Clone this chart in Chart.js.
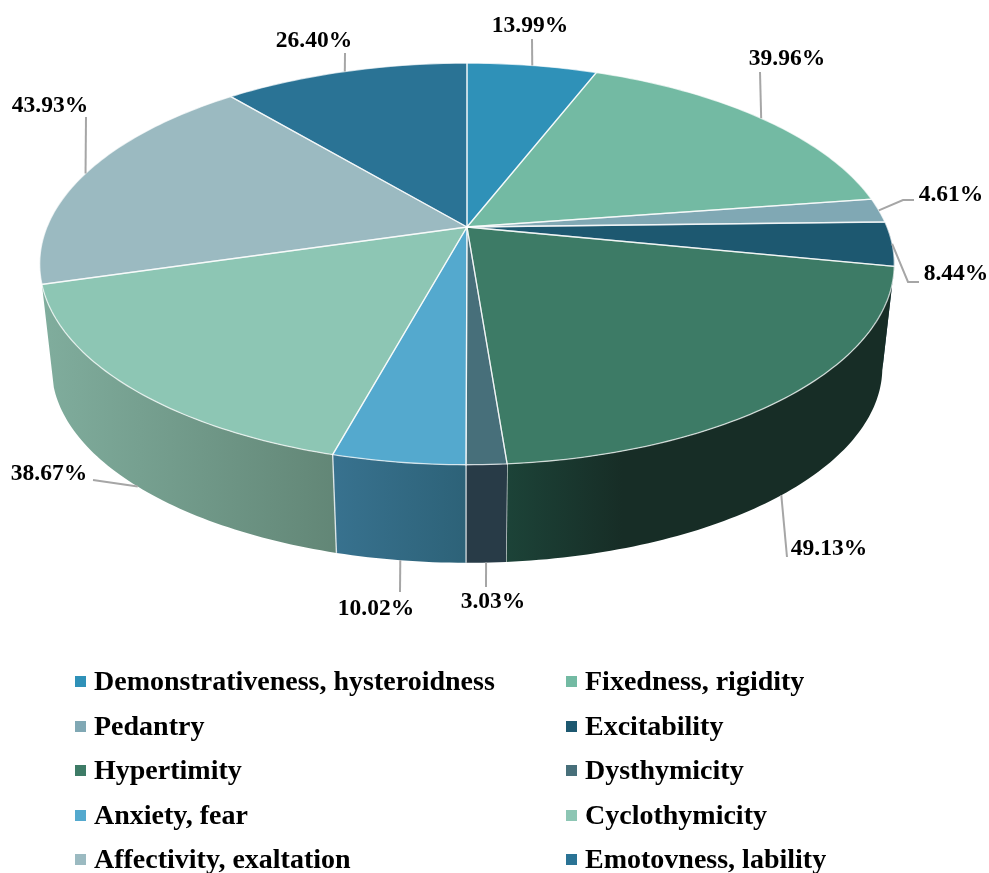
<!DOCTYPE html>
<html>
<head>
<meta charset="utf-8">
<title>Personality accentuations</title>
<script src="https://cdn.jsdelivr.net/npm/chart.js@4"></script>
<style>
    body { margin: 0; background: #fff; }
    #wrap { position: relative; width: 989px; height: 873px; overflow: hidden; }
    #chart-pie { position: absolute; left: 0; top: 0; }
    .legend-item {
        position: absolute;
        height: 44px;
        font: bold 28px/44px "Liberation Serif", serif;
        color: #000;
        white-space: nowrap;
    }
    .legend-item i {
        position: absolute;
        left: -19px;
        top: 17px;
        width: 11px;
        height: 11px;
    }
</style>
</head>
<body>
<div id="wrap">
    <canvas id="chart-pie" width="989" height="873"></canvas>
</div>
<script>
const categories = [
    'Demonstrativeness, hysteroidness', 'Fixedness, rigidity', 'Pedantry', 'Excitability', 'Hypertimity',
    'Dysthymicity', 'Anxiety, fear', 'Cyclothymicity', 'Affectivity, exaltation', 'Emotovness, lability',
];
const percents = [13.99, 39.96, 4.61, 8.44, 49.13, 3.03, 10.02, 38.67, 43.93, 26.40];

const topColors = ['#2f91b8', '#73baa3', '#80a8b4', '#1d5870', '#3d7b66', '#476f7a', '#54a9ce', '#8dc6b4', '#9bbac1', '#2a7395'];
const wallLeft = ['#2f91b8', '#73baa3', '#80a8b4', '#173f50', '#1c4338', '#283b47', '#38728f', '#80ad9d', '#9bbac1', '#2a7395'];
const wallRight = ['#2f91b8', '#73baa3', '#80a8b4', '#173f50', '#172d26', '#283b47', '#2d6278', '#628676', '#9bbac1', '#2a7395'];

// label centre, leader end and optional elbow, in page pixels
const labelCentres = [[530, 26], [787, 59], [951, 195], [956, 274], [829, 549], [493, 602], [376, 609], [49, 474], [50, 106], [314, 41]];
const leaderEnds = [[532, 39], [760, 72], [914, 200], [919, 282], [787, 557], [486, 587], [400, 592], [93, 480], [86, 117], [345, 53]];
const leaderElbows = [null, null, [903, 200], [908, 282], null, null, null, null, null, null];

// perspective of the disc: apex position and foreshortening
const apexX = 467;
const apexY = 227;
const tilt = 0.184;
const radiusX = 420;
const radiusY = 194;
// lower disc, seen slightly smaller and further down
const depthScale = 0.972;
const depthShift = 104.7;

function projectTop(angle) {
    const x = Math.cos(angle);
    const y = Math.sin(angle);
    const w = 1 - tilt * y;
    return [apexX + radiusX * x / w, apexY + radiusY * y / w];
}

function projectBottom(angle) {
    const p = projectTop(angle);
    return [apexX + (p[0] - apexX) * depthScale, apexY + (p[1] - apexY) * depthScale + depthShift];
}

function arcPoints(project, start, end) {
    const steps = Math.max(2, Math.ceil((end - start) * 60));
    const pts = [];
    for (let i = 0; i <= steps; i++) {
        pts.push(project(start + (end - start) * i / steps));
    }
    return pts;
}

function tracePath(ctx, pts) {
    ctx.beginPath();
    pts.forEach((p, i) => (i ? ctx.lineTo(p[0], p[1]) : ctx.moveTo(p[0], p[1])));
}

const pie3d = {
    id: 'pie3d',
    beforeDatasetDraw(chart, args) {
        const ctx = chart.ctx;
        const arcs = args.meta.data;
        const mid = a => (a.startAngle + a.endAngle) / 2;

        // side walls, back to front
        const order = arcs.map((a, i) => i)
            .filter(i => Math.sin(mid(arcs[i])) > 0)
            .sort((i, j) => Math.sin(mid(arcs[i])) - Math.sin(mid(arcs[j])));
        ctx.save();
        order.forEach(i => {
            const a = arcs[i];
            const upper = arcPoints(projectTop, a.startAngle, a.endAngle);
            const lower = arcPoints(projectBottom, a.startAngle, a.endAngle).reverse();
            const xs = upper.concat(lower).map(p => p[0]);
            const grad = ctx.createLinearGradient(Math.min(...xs), 0, Math.max(...xs), 0);
            grad.addColorStop(0, wallLeft[i]);
            grad.addColorStop(i === 4 ? 0.3 : 1, wallRight[i]);
            tracePath(ctx, upper.concat(lower));
            ctx.closePath();
            ctx.fillStyle = grad;
            ctx.fill();
            if (Math.abs(Math.cos(a.endAngle)) < 0.95) {
                const edge = [projectTop(a.endAngle), projectBottom(a.endAngle)];
                tracePath(ctx, edge);
                ctx.strokeStyle = 'rgba(255, 255, 255, 0.75)';
                ctx.lineWidth = 1.4;
                ctx.stroke();
            }
        });

        // top face
        arcs.forEach(a => {
            const pts = [[apexX, apexY]].concat(arcPoints(projectTop, a.startAngle, a.endAngle));
            tracePath(ctx, pts);
            ctx.closePath();
            ctx.fillStyle = a.options.backgroundColor;
            ctx.fill();
        });
        arcs.forEach(a => {
            const pts = [[apexX, apexY]].concat(arcPoints(projectTop, a.startAngle, a.endAngle));
            tracePath(ctx, pts);
            ctx.closePath();
            ctx.strokeStyle = 'rgba(255, 255, 255, 0.7)';
            ctx.lineWidth = 1.3;
            ctx.stroke();
        });

        // leaders and value labels
        arcs.forEach((a, i) => {
            const m = mid(a);
            const rim = Math.sin(m) > 0.15 ? projectBottom(m) : projectTop(m);
            const pts = leaderElbows[i] ? [rim, leaderElbows[i], leaderEnds[i]] : [rim, leaderEnds[i]];
            tracePath(ctx, pts);
            ctx.strokeStyle = '#a6a6a6';
            ctx.lineWidth = 2;
            ctx.stroke();

            ctx.save();
            if (i === 4) {
                // the source picture cuts this label off at the baseline
                ctx.beginPath();
                ctx.rect(770, 530, 120, 26);
                ctx.clip();
            }
            ctx.fillStyle = '#000';
            ctx.font = 'bold 23.5px "Liberation Serif", serif';
            ctx.textAlign = 'center';
            ctx.textBaseline = 'middle';
            ctx.fillText(percents[i].toFixed(2) + '%', labelCentres[i][0], labelCentres[i][1]);
            ctx.restore();
        });
        ctx.restore();
        return false;
    },
};

new Chart(document.getElementById('chart-pie'), {
    type: 'pie',
    data: {
        labels: categories,
        datasets: [{ data: percents, backgroundColor: topColors }],
    },
    options: {
        responsive: false,
        animation: false,
        events: [],
        plugins: {
            legend: { display: false },
            tooltip: { enabled: false },
        },
    },
    plugins: [pie3d],
});

// two column legend, filled row by row
const wrap = document.getElementById('wrap');
categories.forEach((name, i) => {
    const item = document.createElement('div');
    item.className = 'legend-item';
    item.style.left = (i % 2 ? 585 : 94) + 'px';
    item.style.top = (659 + Math.floor(i / 2) * 44.5) + 'px';
    item.textContent = name;
    const swatch = document.createElement('i');
    swatch.style.background = topColors[i];
    item.prepend(swatch);
    wrap.appendChild(item);
});
</script>
</body>
</html>
